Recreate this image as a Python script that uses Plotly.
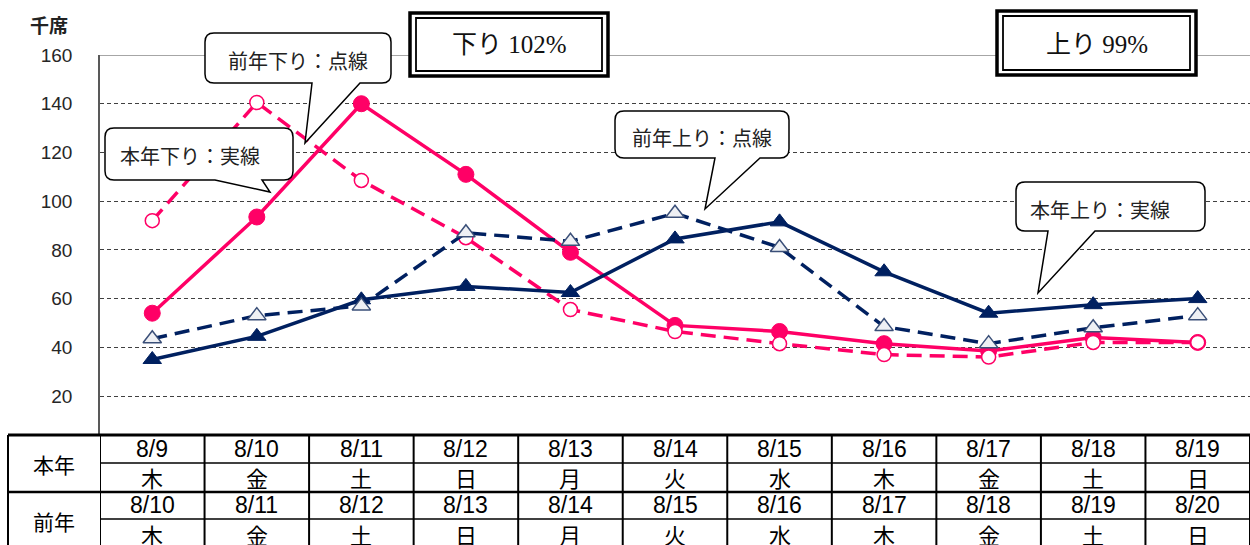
import plotly.graph_objects as go

# ---------------- data ----------------
dates_this = ["8/9", "8/10", "8/11", "8/12", "8/13", "8/14", "8/15", "8/16", "8/17", "8/18", "8/19"]
dates_prev = ["8/10", "8/11", "8/12", "8/13", "8/14", "8/15", "8/16", "8/17", "8/18", "8/19", "8/20"]
days = ["木", "金", "土", "日", "月", "火", "水", "木", "金", "土", "日"]

kudari_this = [54, 93.5, 140, 111, 79, 49, 46.5, 41.5, 38.5, 44, 42]      # 本年下り
kudari_prev = [92, 140.5, 108.5, 85, 55.5, 46.5, 41.5, 37, 36, 42, 42]    # 前年下り
nobori_this = [35, 44.5, 59.5, 65, 62.5, 84.5, 91.5, 71, 54, 57.5, 60]    # 本年上り
nobori_prev = [43.5, 53, 57, 87, 83.5, 95, 81, 48.5, 41.5, 48, 53]        # 前年上り

y_ticks = [20, 40, 60, 80, 100, 120, 140, 160]

PINK = "#FF0066"
NAVY = "#002060"

# ---------------- geometry helpers ----------------
W, H = 1250, 545
ML, MR, MT, MB = 100, 0, 55, 110
PW, PH = W - ML - MR, H - MT - MB


def pp(X, Y):
    return (X - ML) / PW, (H - MB - Y) / PH


def fmt(X, Y):
    x, y = pp(X, Y)
    return f"{x:.5f},{y:.5f}"


def bubble_path(x0, y0, x1, y1, tb1, tb2, tip, r=9):
    tx, ty = tip
    return (
        f"M {fmt(x0 + r, y0)} L {fmt(x1 - r, y0)} Q {fmt(x1, y0)} {fmt(x1, y0 + r)} "
        f"L {fmt(x1, y1 - r)} Q {fmt(x1, y1)} {fmt(x1 - r, y1)} "
        f"L {fmt(tb2, y1)} L {fmt(tx, ty)} L {fmt(tb1, y1)} "
        f"L {fmt(x0 + r, y1)} Q {fmt(x0, y1)} {fmt(x0, y1 - r)} "
        f"L {fmt(x0, y0 + r)} Q {fmt(x0, y0)} {fmt(x0 + r, y0)} Z"
    )


fig = go.Figure()

fig.add_trace(go.Scatter(
    x=dates_this, y=kudari_this, mode="lines+markers", name="本年下り",
    line=dict(color=PINK, width=3.5),
    marker=dict(symbol="circle", size=16, color=PINK, line=dict(color=PINK, width=1)),
))
fig.add_trace(go.Scatter(
    x=dates_this, y=kudari_prev, mode="lines+markers", name="前年下り",
    line=dict(color=PINK, width=3.5, dash="15px,8px"),
    marker=dict(symbol="circle", size=14, color="white", line=dict(color=PINK, width=1.5)),
))
fig.add_trace(go.Scatter(
    x=dates_this, y=nobori_this, mode="lines+markers", name="本年上り",
    line=dict(color=NAVY, width=3.5),
    marker=dict(symbol="triangle-up", size=16, color=NAVY, line=dict(color=NAVY, width=1)),
))
fig.add_trace(go.Scatter(
    x=dates_this, y=nobori_prev, mode="lines+markers", name="前年上り",
    line=dict(color=NAVY, width=3.5, dash="15px,8px"),
    marker=dict(symbol="triangle-up", size=16, color="#EEF0F4", line=dict(color="#3A4F78", width=1.5)),
))

shapes = []
annos = []

# top border line at 160 (solid gray)
shapes.append(dict(type="line", xref="paper", yref="y", x0=0, x1=1, y0=160, y1=160,
                   line=dict(color="#A6A6A6", width=2), layer="below"))

# ---------------- table ----------------
n = len(dates_this)
left_edge = pp(8, 0)[0]
yl = [pp(0, Y)[1] for Y in (435, 463, 492, 519, 549)]

shapes.append(dict(type="line", xref="paper", yref="paper", x0=left_edge, x1=1.01, y0=yl[0], y1=yl[0],
                   line=dict(color="black", width=3)))
shapes.append(dict(type="line", xref="paper", yref="paper", x0=0, x1=1.01, y0=yl[1], y1=yl[1],
                   line=dict(color="black", width=1.5)))
shapes.append(dict(type="line", xref="paper", yref="paper", x0=left_edge, x1=1.01, y0=yl[2], y1=yl[2],
                   line=dict(color="black", width=2.5)))
shapes.append(dict(type="line", xref="paper", yref="paper", x0=0, x1=1.01, y0=yl[3], y1=yl[3],
                   line=dict(color="black", width=1.5)))
shapes.append(dict(type="line", xref="paper", yref="paper", x0=left_edge, x1=left_edge, y0=yl[0], y1=yl[4],
                   line=dict(color="black", width=2)))
for i in range(n + 1):
    shapes.append(dict(type="line", xref="x", yref="paper", x0=i - 0.5, x1=i - 0.5, y0=yl[0], y1=yl[4],
                       line=dict(color="black", width=2)))

date_font = dict(family="Liberation Sans, Arial", size=23, color="black")
day_font = dict(family="Noto Sans CJK JP", size=22, color="black")
rows_c = [pp(0, Y)[1] for Y in (449, 477, 505, 534)]
for i in range(n):
    for rc, txt, fnt in ((rows_c[0], dates_this[i], date_font), (rows_c[1], days[i], day_font),
                         (rows_c[2], dates_prev[i], date_font), (rows_c[3], days[i], day_font)):
        annos.append(dict(x=dates_this[i], y=rc, xref="x", yref="paper", text=txt,
                          showarrow=False, font=fnt, xanchor="center", yanchor="middle"))

hdr_font = dict(family="Noto Sans CJK JP", size=21, color="black")
for txt, Y in (("本年", 464), ("前年", 521)):
    x, y = pp(54, Y)
    annos.append(dict(x=x, y=y, xref="paper", yref="paper", text=txt, showarrow=False,
                      font=hdr_font, xanchor="center", yanchor="middle"))

# ---------------- unit label ----------------
x, y = pp(49, 25)
annos.append(dict(x=x, y=y, xref="paper", yref="paper", text="<b>千席</b>", showarrow=False,
                  font=dict(family="Noto Sans CJK JP", size=19, color="#222222"),
                  xanchor="center", yanchor="middle"))

# ---------------- double-bordered boxes ----------------
for (ox0, oy0, ox1, oy1), (ix0, iy0, ix1, iy1), txt, (cx, cy) in (
    ((410, 13, 608, 76), (416, 18, 602, 71), "下り 102%", (509, 45)),
    ((997, 11, 1196, 75), (1003, 16, 1190, 70), "上り 99%", (1097, 44)),
):
    a0, b0 = pp(ox0, oy0)
    a1, b1 = pp(ox1, oy1)
    shapes.append(dict(type="rect", xref="paper", yref="paper", x0=a0, x1=a1, y0=b0, y1=b1,
                       fillcolor="white", line=dict(color="black", width=3.5)))
    a0, b0 = pp(ix0, iy0)
    a1, b1 = pp(ix1, iy1)
    shapes.append(dict(type="rect", xref="paper", yref="paper", x0=a0, x1=a1, y0=b0, y1=b1,
                       fillcolor="white", line=dict(color="black", width=1.8)))
    x, y = pp(cx, cy)
    annos.append(dict(x=x, y=y, xref="paper", yref="paper", text=txt, showarrow=False,
                      font=dict(family="Liberation Serif, Noto Sans CJK JP", size=25, color="#111111"),
                      xanchor="center", yanchor="middle"))

# ---------------- callouts ----------------
callouts = [
    ("前年下り：点線", (205, 33, 391, 83), (312, 360), (305, 143), (298, 60)),
    ("本年下り：実線", (105, 128, 293, 180), (215, 262), (270, 192), (190, 155)),
    ("前年上り：点線", (615, 111, 789, 158), (715, 760), (705, 209), (702, 137)),
    ("本年上り：実線", (1016, 182, 1205, 231), (1048, 1095), (1038, 293), (1100, 209)),
]
for txt, (x0, y0, x1, y1), (tb1, tb2), tip, (cx, cy) in callouts:
    shapes.append(dict(type="path", xref="paper", yref="paper",
                       path=bubble_path(x0, y0, x1, y1, tb1, tb2, tip),
                       fillcolor="white", line=dict(color="black", width=1.5)))
    x, y = pp(cx, cy)
    annos.append(dict(x=x, y=y, xref="paper", yref="paper", text=txt, showarrow=False,
                      font=dict(family="Noto Sans CJK JP", size=20, color="#222222"),
                      xanchor="center", yanchor="middle"))

fig.update_layout(
    width=W, height=H,
    margin=dict(l=ML, r=MR, t=MT, b=MB, pad=0),
    paper_bgcolor="white", plot_bgcolor="white",
    showlegend=False,
    shapes=shapes, annotations=annos,
    xaxis=dict(type="category", range=[-0.5, n - 0.5], showticklabels=False, showgrid=False,
               zeroline=False, showline=False, ticks="", fixedrange=True),
    yaxis=dict(range=[4, 160], tickvals=y_ticks, showgrid=True, gridcolor="#404040", gridwidth=1,
               griddash="4px,3px", zeroline=False, showline=True, linecolor="#595959", linewidth=1.5,
               ticks="outside", ticklen=22, tickcolor="rgba(0,0,0,0)",
               tickfont=dict(family="Liberation Sans, Arial", size=19, color="#262626"), fixedrange=True),
)

fig.write_html(
    "out.html",
    config={"displayModeBar": False},
    post_script="document.body.style.margin='0';document.body.style.padding='0';",
)
